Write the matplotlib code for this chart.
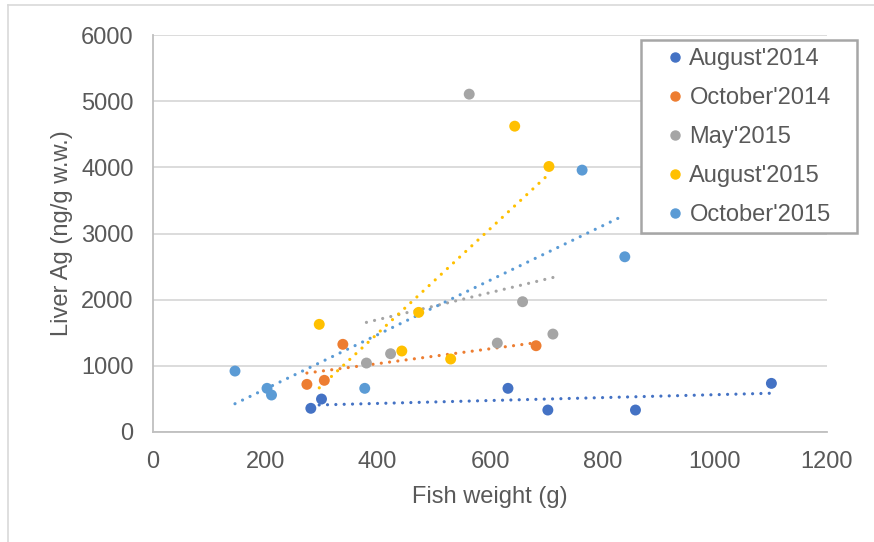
import numpy as np
import matplotlib
matplotlib.use("Agg")
import matplotlib.pyplot as plt
from matplotlib.lines import Line2D
from matplotlib.patches import Rectangle

plt.rcParams['font.family'] = ['Liberation Sans', 'DejaVu Sans']

# data: fish weight (g) and liver Ag (ng/g w.w.)
aug14_w = [281, 300, 632, 703, 859, 1101]
aug14_ag = [358, 498, 660, 332, 332, 735]

oct14_w = [274, 305, 338, 682]
oct14_ag = [720, 781, 1325, 1304]

may15_w = [380, 423, 563, 613, 658, 712]
may15_ag = [1042, 1183, 5106, 1344, 1969, 1480]

aug15_w = [296, 443, 473, 530, 644, 705]
aug15_ag = [1627, 1224, 1808, 1103, 4622, 4013]

oct15_w = [146, 203, 211, 377, 764, 840]
oct15_ag = [921, 660, 559, 660, 3958, 2648]

labels = ["August'2014", "October'2014", "May'2015", "August'2015", "October'2015"]
colors = ["#4472C4", "#ED7D31", "#A5A5A5", "#FFC000", "#5B9BD5"]

series = [(aug14_w, aug14_ag), (oct14_w, oct14_ag), (may15_w, may15_ag),
          (aug15_w, aug15_ag), (oct15_w, oct15_ag)]

W, H = 874, 542
fs = 17
txt = "#595959"

fig = plt.figure(figsize=(W/100, H/100), dpi=100)
ax = fig.add_axes([153/W, 1-432/H, (827-153)/W, (432-35)/H])

for (w, ag), lab, c in zip(series, labels, colors):
    w = np.array(w, dtype=float)
    ag = np.array(ag, dtype=float)
    ax.scatter(w, ag, s=62, color=c, edgecolors='none', zorder=3, label=lab)
    # linear trendline over the data range
    k, b = np.polyfit(w, ag, 1)
    xs = np.array([w.min(), w.max()])
    ax.plot(xs, k*xs + b, color=c, lw=2.3, dashes=(0.01, 2.6),
            dash_capstyle='round', zorder=2)

ax.set_xlim(0, 1200)
ax.set_ylim(0, 6000)
ax.set_xticks(np.arange(0, 1201, 200))
ax.set_yticks(np.arange(0, 6001, 1000))
ax.grid(axis='y', color='#D9D9D9', lw=1.3)
ax.set_axisbelow(True)
for s in ['top', 'right']:
    ax.spines[s].set_visible(False)
for s in ['left', 'bottom']:
    ax.spines[s].set_color('#BFBFBF')
    ax.spines[s].set_linewidth(1.3)
ax.tick_params(length=0, labelsize=fs, labelcolor=txt)
ax.tick_params(axis='x', pad=14)
ax.tick_params(axis='y', pad=14)
ax.set_xlabel("Fish weight (g)", fontsize=fs, color=txt, labelpad=9)
ax.set_ylabel("Liver Ag (ng/g w.w.)", fontsize=fs, color=txt, labelpad=6)

# legend box drawn separately, entries placed inside it
fig.add_artist(Rectangle((641/W, 1-233/H), (857-641)/W, (233-40)/H,
                         transform=fig.transFigure, facecolor='white',
                         edgecolor='#A6A6A6', lw=1.8, zorder=4))
handles = [Line2D([], [], marker='o', ls='none', color=c, markersize=6.5)
           for c in colors]
leg = fig.legend(handles, labels, loc='upper left',
                 bbox_to_anchor=(663/W, 1-48/H), fontsize=fs,
                 frameon=False, handletextpad=0.12, handlelength=1.0,
                 labelspacing=0.72, borderpad=0, borderaxespad=0)
leg.set_zorder(5)
for t in leg.get_texts():
    t.set_color(txt)

# chart area border fragments
fig.add_artist(Line2D([8/W, 8/W], [0, 1-5/H], transform=fig.transFigure,
                      color='#D9D9D9', lw=1.2))
fig.add_artist(Line2D([8/W, 1], [1-5/H, 1-5/H], transform=fig.transFigure,
                      color='#D9D9D9', lw=1.2))

fig.savefig("out.png", dpi=100)
